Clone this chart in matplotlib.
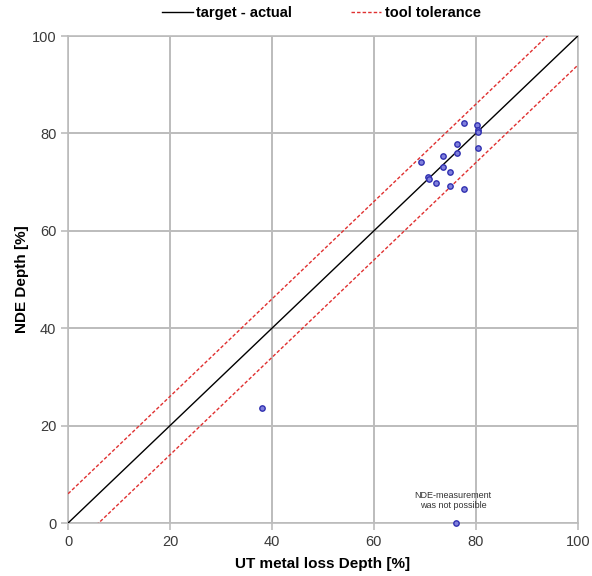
import numpy as np
import matplotlib
matplotlib.use('Agg')
import matplotlib.pyplot as plt
from matplotlib.lines import Line2D

plt.rcParams['font.family'] = ['Liberation Sans', 'DejaVu Sans']

# measured points (UT depth vs NDE depth)
ut_depth = [77.6, 80.3, 80.4, 80.4, 76.3, 80.5, 73.5, 76.3, 69.3, 73.5,
            74.9, 70.6, 70.8, 72.1, 74.9, 77.6, 38.1, 76.2]
nde_depth = [82.1, 81.8, 80.7, 80.2, 77.8, 77.0, 75.4, 75.9, 74.2, 73.1,
             72.0, 71.0, 70.6, 69.9, 69.2, 68.5, 23.7, 0.0]

tolerance = 6
ref_x = [0, 100]
ticks = [0, 20, 40, 60, 80, 100]

fig = plt.figure(figsize=(5.92, 5.76), dpi=100)
ax = fig.add_axes([0.115, 0.092, 0.861, 0.8455])

ax.plot(ref_x, ref_x, color='black', linewidth=1.0, zorder=3)
ax.plot(ref_x, [v + tolerance for v in ref_x], color='#e03030', linestyle=(0, (2.5, 1.5)),
        linewidth=1.0, zorder=3)
ax.plot(ref_x, [v - tolerance for v in ref_x], color='#e03030', linestyle=(0, (2.5, 1.5)),
        linewidth=1.0, zorder=3)

ax.scatter(ut_depth, nde_depth, s=15, facecolor='#8080dc', edgecolor='#3030b0',
           linewidth=1.0, zorder=4, clip_on=False)

ax.text(75.5, 4.6, 'NDE-measurement\nwas not possible', fontsize=6.5, ha='center',
        va='center', color='#333333', linespacing=1.1)

ax.set_xlim(0, 100)
ax.set_ylim(0, 100)
ax.set_xticks(ticks)
ax.set_yticks(ticks)
ax.grid(True, color='#bcbcbc', linewidth=1.4)
ax.set_axisbelow(True)
for sp in ax.spines.values():
    sp.set_color('#bcbcbc')
    sp.set_linewidth(1.2)
ax.tick_params(colors='#bcbcbc', labelcolor='#3a3a3a', labelsize=10.5, length=5, width=1.2)

ax.set_xlabel('UT metal loss Depth [%]', fontsize=11, fontweight='bold', labelpad=6)
ax.set_ylabel('NDE Depth [%]', fontsize=11, fontweight='bold', labelpad=2)

handles = [Line2D([], [], color='black', linewidth=1.0),
           Line2D([], [], color='#e03030', linestyle=(0, (2.5, 1.5)), linewidth=1.0)]
leg = fig.legend(handles, ['target - actual', 'tool tolerance'], loc='upper center',
                 bbox_to_anchor=(0.543, 1.012), ncol=2, frameon=False, fontsize=10.5,
                 handlelength=2.1, handletextpad=0.25, columnspacing=4.0)
for t in leg.get_texts():
    t.set_fontweight('bold')

fig.savefig('out.png', dpi=100)
